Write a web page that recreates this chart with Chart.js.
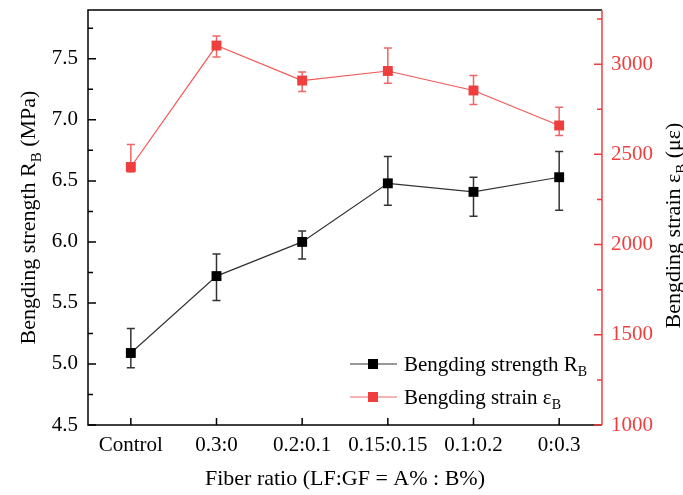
<!DOCTYPE html>
<html>
<head>
<meta charset="utf-8">
<script src="https://cdn.jsdelivr.net/npm/chart.js@4"></script>
<style>
  body { margin: 0; background: #fff; }
  #wrap { width: 683px; height: 495px; }
</style>
</head>
<body>
<div id="wrap"><canvas id="myChart"></canvas></div>
<script>
// data
var categories = ['Control', '0.3:0', '0.2:0.1', '0.15:0.15', '0.1:0.2', '0:0.3'];
var strength = [5.09, 5.72, 6.00, 6.48, 6.41, 6.53];
var strengthErrUp = [0.20, 0.18, 0.09, 0.22, 0.12, 0.21];
var strengthErrDown = [0.12, 0.20, 0.14, 0.18, 0.20, 0.27];
var strain = [2430, 3103, 2909, 2962, 2854, 2660];
var strainErrUp = [124, 53, 48, 128, 83, 101];
var strainErrDown = [28, 63, 61, 68, 78, 56];
var strengthTicks = [4.5, 5.0, 5.5, 6.0, 6.5, 7.0, 7.5];
var strainTicks = [1000, 1500, 2000, 2500, 3000];

var FONT = '"Liberation Serif", "Times New Roman", serif';
var RED = '#ef3e3e';

// text with a subscript piece, parts = [[text, isSub], ...]
function drawParts(ctx, parts, x, y, size) {
  var subSize = Math.round(size * 0.68);
  var total = 0;
  parts.forEach(function(p) {
    ctx.font = (p[1] ? subSize : size) + 'px ' + FONT;
    total += ctx.measureText(p[0]).width;
  });
  return { width: total, draw: function(startX) {
    var cx = startX;
    parts.forEach(function(p) {
      ctx.font = (p[1] ? subSize : size) + 'px ' + FONT;
      ctx.textAlign = 'left';
      ctx.textBaseline = 'alphabetic';
      ctx.fillText(p[0], cx, y + (p[1] ? size * 0.25 : 0));
      cx += ctx.measureText(p[0]).width;
    });
  }};
}

var errorBars = {
  id: 'errorBars',
  beforeDatasetsDraw: function(chart) {
    var ctx = chart.ctx;
    var sets = [
      { idx: 0, axis: 'y', vals: strength, up: strengthErrUp, down: strengthErrDown, color: '#333' },
      { idx: 1, axis: 'y1', vals: strain, up: strainErrUp, down: strainErrDown, color: '#f06666' }
    ];
    sets.forEach(function(s) {
      var meta = chart.getDatasetMeta(s.idx);
      var scale = chart.scales[s.axis];
      ctx.save();
      ctx.strokeStyle = s.color;
      ctx.lineWidth = 1.5;
      for (var i = 0; i < s.vals.length; i++) {
        var x = meta.data[i].x;
        var yt = scale.getPixelForValue(s.vals[i] + s.up[i]);
        var yb = scale.getPixelForValue(s.vals[i] - s.down[i]);
        ctx.beginPath();
        ctx.moveTo(x, yt); ctx.lineTo(x, yb);
        ctx.moveTo(x - 4, yt); ctx.lineTo(x + 4, yt);
        ctx.moveTo(x - 4, yb); ctx.lineTo(x + 4, yb);
        ctx.stroke();
      }
      ctx.restore();
    });
  }
};

var frame = {
  id: 'frame',
  afterDraw: function(chart) {
    var ctx = chart.ctx;
    var a = chart.chartArea;
    ctx.save();
    ctx.lineWidth = 1.5;

    // box
    ctx.strokeStyle = '#000';
    ctx.beginPath();
    ctx.moveTo(a.right, a.top); ctx.lineTo(a.left, a.top); ctx.lineTo(a.left, a.bottom); ctx.lineTo(a.right, a.bottom);
    ctx.stroke();
    ctx.strokeStyle = RED;
    ctx.beginPath();
    ctx.moveTo(a.right, a.top); ctx.lineTo(a.right, a.bottom);
    ctx.stroke();

    // inward ticks with a minor one halfway
    function yTicks(scale, x, dir, color) {
      ctx.strokeStyle = color;
      var t = scale.ticks;
      var step = t[1].value - t[0].value;
      ctx.beginPath();
      t.forEach(function(tk) {
        var y = scale.getPixelForValue(tk.value);
        ctx.moveTo(x, y); ctx.lineTo(x + dir * 8, y);
        var mv = tk.value + step / 2;
        if (mv <= scale.max) {
          var ym = scale.getPixelForValue(mv);
          ctx.moveTo(x, ym); ctx.lineTo(x + dir * 5, ym);
        }
      });
      ctx.stroke();
    }
    yTicks(chart.scales.y, a.left, 1, '#000');
    yTicks(chart.scales.y1, a.right, -1, RED);

    // bottom ticks
    ctx.strokeStyle = '#000';
    ctx.beginPath();
    chart.scales.x.ticks.forEach(function(tk, i) {
      var x = chart.scales.x.getPixelForTick(i);
      ctx.moveTo(x, a.bottom); ctx.lineTo(x, a.bottom - 7);
    });
    ctx.stroke();

    ctx.fillStyle = '#000';
    // x title
    var xt = drawParts(ctx, [['Fiber ratio (LF:GF = A% : B%)', false]], 0, 485, 22);
    xt.draw((a.left + a.right) / 2 - xt.width / 2);

    // left title
    ctx.save();
    ctx.translate(35, (a.top + a.bottom) / 2);
    ctx.rotate(-Math.PI / 2);
    var lt = drawParts(ctx, [['Bengding strength R', false], ['B', true], [' (MPa)', false]], 0, 0, 22);
    lt.draw(-lt.width / 2);
    ctx.restore();

    // right title
    ctx.save();
    ctx.translate(680, (a.top + a.bottom) / 2 + 8);
    ctx.rotate(-Math.PI / 2);
    var rt = drawParts(ctx, [['Bengding strain \u03b5', false], ['B', true], [' (\u03bc\u03b5)', false]], 0, 0, 22);
    rt.draw(-rt.width / 2);
    ctx.restore();

    // legend
    var rows = [
      { y: 364, line: '#333', fill: '#000', parts: [['Bengding strength R', false], ['B', true]] },
      { y: 397, line: '#f06666', fill: RED, parts: [['Bengding strain \u03b5', false], ['B', true]] }
    ];
    rows.forEach(function(r) {
      ctx.strokeStyle = r.line;
      ctx.lineWidth = 1.2;
      ctx.beginPath();
      ctx.moveTo(350, r.y); ctx.lineTo(397, r.y);
      ctx.stroke();
      ctx.fillStyle = r.fill;
      ctx.fillRect(368, r.y - 5, 10, 10);
      ctx.fillStyle = '#000';
      var lg = drawParts(ctx, r.parts, 0, r.y + 7, 21);
      lg.draw(404);
    });
    ctx.restore();
  }
};

function noPadY(s, w) {
  s.width = w;
  s.paddingTop = 0;
  s.paddingBottom = 0;
}

var ctx = document.getElementById('myChart').getContext('2d');
var chart = new Chart(ctx, {
  type: 'line',
  data: {
    labels: categories,
    datasets: [
      {
        label: 'Bengding strength RB',
        data: strength,
        yAxisID: 'y',
        borderColor: '#333',
        borderWidth: 1.2,
        pointStyle: 'rect',
        pointRadius: 7,
        pointBorderWidth: 0,
        pointBackgroundColor: '#000',
        tension: 0
      },
      {
        label: 'Bengding strain εB',
        data: strain,
        yAxisID: 'y1',
        borderColor: '#f25858',
        borderWidth: 1.2,
        pointStyle: 'rect',
        pointRadius: 7,
        pointBorderWidth: 0,
        pointBackgroundColor: RED,
        tension: 0
      }
    ]
  },
  options: {
    responsive: true,
    maintainAspectRatio: false,
    animation: false,
    devicePixelRatio: 1,
    layout: { padding: { top: 10, left: 0, right: 0, bottom: 0 } },
    plugins: {
      legend: { display: false },
      tooltip: { enabled: false }
    },
    scales: {
      x: {
        offset: true,
        grid: { display: false, drawTicks: false },
        border: { display: false },
        ticks: { color: '#000', font: { family: FONT, size: 21 }, padding: 8, maxRotation: 0, autoSkip: false },
        afterFit: function(s) { s.height = 70; s.paddingLeft = 0; s.paddingRight = 0; }
      },
      y: {
        position: 'left',
        min: 4.5,
        max: 7.9,
        grid: { display: false, drawTicks: false },
        border: { display: false },
        afterBuildTicks: function(s) { s.ticks = strengthTicks.map(function(v) { return { value: v }; }); },
        ticks: {
          color: '#000',
          font: { family: FONT, size: 21 },
          padding: 10,
          callback: function(v) { return v.toFixed(1); }
        },
        afterFit: function(s) { noPadY(s, 88); }
      },
      y1: {
        position: 'right',
        min: 1000,
        max: 3300,
        grid: { display: false, drawTicks: false },
        border: { display: false },
        afterBuildTicks: function(s) { s.ticks = strainTicks.map(function(v) { return { value: v }; }); },
        ticks: {
          color: RED,
          font: { family: FONT, size: 21 },
          padding: 9,
          callback: function(v) { return String(v); }
        },
        afterFit: function(s) { noPadY(s, 81); }
      }
    }
  },
  plugins: [errorBars, frame]
});
</script>
</body>
</html>
